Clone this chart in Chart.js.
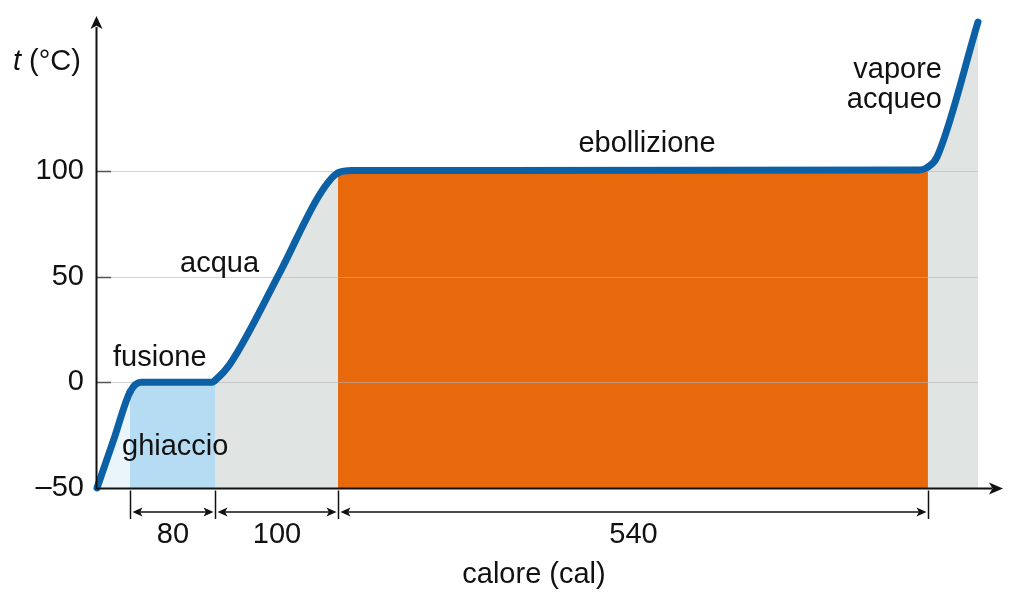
<!DOCTYPE html>
<html>
<head>
<meta charset="utf-8">
<script src="https://cdn.jsdelivr.net/npm/chart.js@4.4.0/dist/chart.umd.min.js"></script>
<style>
  html, body { margin: 0; padding: 0; background: #fff; }
</style>
</head>
<body>
<canvas id="heatChart" width="1024" height="607"></canvas>
<script>
// curva di riscaldamento dell'acqua (scala x schematica)
const heatX = [0, 15.6, 30.3, 40.5, 105.7, 108.5, 122.3, 168.3, 205.0, 221.6, 234.5, 756.7, 764.0, 772.3, 810];
const tempC = [-50, -26.8, -4.6, 0, 0, 0.9, 8.7, 52.2, 89.1, 99.1, 100.2, 100.5, 101.9, 106.6, 170.5];
const phaseEdges = [30.3, 108.5, 221.6, 764.0];
const phaseColors = ['#e9f4fb', '#b5dcf2', '#e0e4e2', '#e8690c', '#e0e4e2'];
const heatSteps = ['80', '100', '540'];
const tempTicks = [-50, 0, 50, 100];

const FONT = '"Liberation Sans", Arial, Helvetica, sans-serif';
const INK = '#111111';

function arrowHead(ctx, tx, ty, dx, dy, len, half) {
  const bx = tx - dx * len, by = ty - dy * len;
  ctx.beginPath();
  ctx.moveTo(tx, ty);
  ctx.lineTo(bx - dy * half, by + dx * half);
  ctx.lineTo(bx + dx * len * 0.25, by + dy * len * 0.25);
  ctx.lineTo(bx + dy * half, by - dx * half);
  ctx.closePath();
  ctx.fill();
}

const decor = {
  id: 'decor',
  beforeDatasetsDraw(chart) {
    const { ctx, chartArea: a, scales: { y } } = chart;
    ctx.save();
    tempTicks.slice(1).forEach(v => {
      const py = Math.round(y.getPixelForValue(v)) + 0.5;
      ctx.strokeStyle = 'rgba(180,180,180,0.6)';
      ctx.lineWidth = 1;
      ctx.beginPath();
      ctx.moveTo(a.left, py);
      ctx.lineTo(a.right, py);
      ctx.stroke();
      ctx.strokeStyle = '#555';
      ctx.lineWidth = 1.5;
      ctx.beginPath();
      ctx.moveTo(a.left, py);
      ctx.lineTo(a.left + 14, py);
      ctx.stroke();
    });
    ctx.restore();
  },
  afterDatasetsDraw(chart) {
    const { ctx, chartArea: a, scales: { x } } = chart;
    ctx.save();
    ctx.strokeStyle = INK;
    ctx.fillStyle = INK;

    // assi con frecce
    const x0 = a.left - 0.5, y0 = a.bottom + 0.5;
    ctx.lineWidth = 2;
    ctx.beginPath();
    ctx.moveTo(x0, y0 + 1);
    ctx.lineTo(x0, 27);
    ctx.moveTo(x0 - 1, y0);
    ctx.lineTo(992, y0);
    ctx.stroke();
    arrowHead(ctx, x0, 16, 0, -1, 13, 6);
    arrowHead(ctx, 1003, y0, 1, 0, 14, 6);

    // quote sotto l'asse x
    const edgesPx = phaseEdges.map(v => Math.round(x.getPixelForValue(v)) + 0.5);
    ctx.lineWidth = 1.5;
    edgesPx.forEach(px => {
      ctx.beginPath();
      ctx.moveTo(px, y0 + 2);
      ctx.lineTo(px, 519);
      ctx.stroke();
    });
    ctx.font = `29px ${FONT}`;
    ctx.textAlign = 'center';
    ctx.textBaseline = 'alphabetic';
    heatSteps.forEach((txt, i) => {
      const l = edgesPx[i] + 2, r = edgesPx[i + 1] - 2, ay = 512;
      ctx.beginPath();
      ctx.moveTo(l + 4, ay);
      ctx.lineTo(r - 4, ay);
      ctx.stroke();
      arrowHead(ctx, l, ay, -1, 0, 10, 4.5);
      arrowHead(ctx, r, ay, 1, 0, 10, 4.5);
      ctx.fillText(txt, (edgesPx[i] + edgesPx[i + 1]) / 2, 543);
    });

    // etichette
    ctx.fillText('ebollizione', 647, 152);
    ctx.fillText('calore (cal)', 534, 583);
    ctx.textAlign = 'right';
    ctx.fillText('vapore', 942, 78);
    ctx.fillText('acqueo', 942, 108);
    ctx.textAlign = 'left';
    ctx.fillText('acqua', 180, 272);
    ctx.fillText('fusione', 113, 366);
    ctx.fillText('ghiaccio', 122, 455);

    // titolo asse y
    ctx.font = `italic 29px ${FONT}`;
    ctx.fillText('t', 13, 70);
    const tw = ctx.measureText('t ').width;
    ctx.font = `29px ${FONT}`;
    ctx.fillText('(\u00b0C)', 13 + tw, 70);
    ctx.restore();
  }
};

new Chart(document.getElementById('heatChart'), {
  type: 'line',
  data: {
    datasets: [{
      data: heatX.map((v, i) => ({ x: v, y: tempC[i] })),
      borderColor: '#0b60a6',
      borderWidth: 7,
      borderCapStyle: 'round',
      borderJoinStyle: 'round',
      pointRadius: 0,
      cubicInterpolationMode: 'monotone',
      fill: 'start',
      backgroundColor: phaseColors[0],
      clip: false,
      segment: {
        backgroundColor: c => phaseColors[phaseEdges.filter(e => heatX[c.p0DataIndex] >= e - 1e-6).length]
      }
    }]
  },
  options: {
    responsive: false,
    animation: false,
    layout: { padding: { left: 0, right: 46, top: 12.5, bottom: 119 } },
    scales: {
      x: { type: 'linear', min: 0, max: 810, display: false },
      y: {
        min: -50,
        max: 175,
        afterBuildTicks: s => { s.ticks = tempTicks.map(v => ({ value: v })); },
        afterFit: s => {
          s.width = 97;
          s.paddingTop = 0;
          s.paddingBottom = 0;
        },
        grid: { display: false, drawTicks: false },
        border: { display: false },
        ticks: {
          padding: 13,
          color: INK,
          font: { family: FONT, size: 29 },
          callback: v => (v < 0 ? '\u2013' + Math.abs(v) : String(v))
        }
      }
    },
    plugins: {
      legend: { display: false },
      tooltip: { enabled: false },
      filler: { drawTime: 'beforeDatasetsDraw' }
    }
  },
  plugins: [decor]
});
</script>
</body>
</html>
